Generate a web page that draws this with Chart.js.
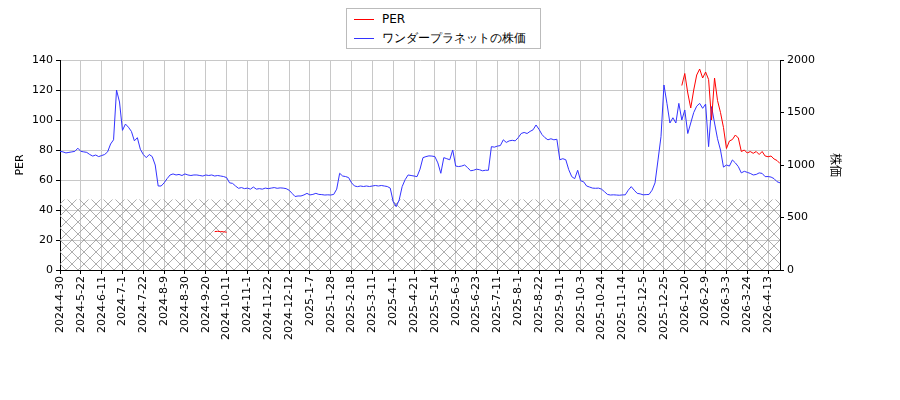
<!DOCTYPE html>
<html><head><meta charset="utf-8">
<script src="https://cdn.jsdelivr.net/npm/chart.js"></script>
<style>
body{margin:0;background:#fff;font-family:"DejaVu Sans",sans-serif}
#wrap{position:relative;width:900px;height:400px}
#legend{position:absolute;left:346px;top:8px;width:193px;height:39px;border:1px solid #bbb;background:#fff;font-size:12px;z-index:2}
.row{position:absolute;left:7px;height:18px;line-height:18px;white-space:nowrap}
.sw{display:inline-block;width:20px;height:1.5px;vertical-align:middle;margin-right:8px}
</style></head><body>
<div id="wrap"><canvas id="c" width="900" height="400"></canvas>
<div id="legend"><div class="row" style="top:1px"><span class="sw" style="background:#ff0000"></span>PER</div>
<div class="row" style="top:20px"><span class="sw" style="background:#3333ff"></span>ワンダープラネットの株価</div></div></div>
<script>
const tickLabels=["2024-4-30","2024-5-22","2024-6-11","2024-7-1","2024-7-22","2024-8-9","2024-8-30","2024-9-20","2024-10-11","2024-11-1","2024-11-22","2024-12-12","2025-1-7","2025-1-28","2025-2-18","2025-3-11","2025-4-1","2025-4-21","2025-5-14","2025-6-3","2025-6-23","2025-7-11","2025-8-1","2025-8-22","2025-9-11","2025-10-3","2025-10-24","2025-11-14","2025-12-5","2025-12-25","2026-1-20","2026-2-9","2026-3-3","2026-3-24","2026-4-13"];
const price=[
1130,1125,1115,1120,1125,1130,1160,1130,1125,1120,
1100,1085,1095,1080,1090,1100,1125,1200,1240,1714,
1600,1330,1390,1360,1320,1230,1260,1150,1100,1070,
1100,1080,1000,800,800,830,870,905,915,905,
910,900,915,905,900,905,905,900,895,905,
900,905,895,900,895,890,880,830,825,800,
778,785,775,780,770,790,770,775,770,780,
775,780,785,778,782,780,775,760,730,700,
705,705,715,730,715,720,730,720,718,714,
716,714,720,770,921,895,890,880,830,800,
794,800,795,800,795,800,805,800,805,800,
795,780,650,603,667,794,860,905,900,895,
889,960,1070,1080,1087,1085,1080,1020,921,1070,
1060,1050,1143,990,985,990,1000,975,945,950,
960,955,945,950,950,1175,1170,1180,1185,1240,
1215,1230,1235,1230,1260,1300,1310,1300,1320,1335,
1381,1340,1290,1260,1240,1250,1240,1245,1050,1060,
1050,955,889,870,950,850,840,800,790,780,
778,780,770,746,720,714,716,714,712,715,
716,760,794,760,730,725,716,718,720,760,
830,1048,1270,1762,1587,1400,1450,1400,1587,1428,
1524,1300,1400,1500,1560,1587,1540,1580,1175,1556,
1400,1250,1143,980,1000,990,1048,1020,984,925,
940,930,920,905,910,925,920,889,890,885,
870,841,830];
const per=new Array(243).fill(null);
const perEarlyStart=52, perEarly=[25.6,25.8,25.6,25.5,25.2];
const perLateStart=209, perLate=[123,131,118,108,120,130,134,128,132,127,100,128,113,105,95,81,86,87,90,88,79,80,78,79,77.8,79,77,79,76,75.5,76,74,73,71,70];
perEarly.forEach((v,i)=>per[perEarlyStart+i]=v);
perLate.forEach((v,i)=>per[perLateStart+i]=v);
const labels=price.map((_,i)=>i%7===0&&tickLabels[i/7]?tickLabels[i/7]:'');

function hatch(){const p=document.createElement('canvas');p.width=12;p.height=12;const g=p.getContext('2d');
g.strokeStyle='#999';g.lineWidth=0.8;g.beginPath();g.moveTo(0,0);g.lineTo(12,12);g.moveTo(12,0);g.lineTo(0,12);g.stroke();return p;}
const hatchPlugin={id:'hatch',beforeDatasetsDraw(ch){const c=ch.ctx,a=ch.chartArea,y=ch.scales.y;
c.save();c.fillStyle=c.createPattern(hatch(),'repeat');const t=y.getPixelForValue(47);c.fillRect(a.left,t,a.right-a.left,y.getPixelForValue(0)-t);c.restore();}};
const titlePlugin={id:'titles',afterDraw(ch){const c=ch.ctx,a=ch.chartArea,m=(a.top+a.bottom)/2;c.save();c.fillStyle='#000';c.textAlign='center';c.textBaseline='middle';
c.font='11px "DejaVu Sans"';c.translate(20,m);c.rotate(-Math.PI/2);c.fillText('PER',0,0);c.restore();
c.save();c.fillStyle='#000';c.textAlign='center';c.textBaseline='middle';c.font='12px "Noto Sans CJK JP"';c.translate(836,m);c.rotate(Math.PI/2);c.fillText('株価',0,0);c.restore();}};
const gc=ctx=>(ctx.index%7===0&&labels[ctx.index])?'#c8c8c8':'rgba(0,0,0,0)';
const tc=ctx=>(ctx.index%7===0&&labels[ctx.index])?'#000':'rgba(0,0,0,0)';
Chart.defaults.font.family='"DejaVu Sans"';Chart.defaults.font.size=11;Chart.defaults.color='#000';
new Chart(document.getElementById('c'),{type:'line',plugins:[hatchPlugin,titlePlugin],
data:{labels,datasets:[
{data:per,yAxisID:'y',borderColor:'#ff0000',borderWidth:1,pointRadius:0,spanGaps:false},
{data:price,yAxisID:'y2',borderColor:'#3333ff',borderWidth:1,pointRadius:0}]},
options:{responsive:false,animation:false,layout:{padding:{top:60}},plugins:{legend:{display:false},tooltip:{enabled:false}},
scales:{
x:{offset:false,afterFit(s){s.height=130},grid:{color:gc,tickColor:tc,tickLength:4},border:{color:'#000'},
ticks:{autoSkip:false,maxRotation:90,minRotation:90,padding:2,callback:(v,i)=>labels[i]}},
y:{position:'left',min:0,max:140,afterFit(s){s.width=60},ticks:{stepSize:20,padding:3},grid:{color:'#c8c8c8',tickColor:'#000',tickLength:4},border:{color:'#000'}},
y2:{position:'right',min:0,max:2000,afterFit(s){s.width=120},ticks:{stepSize:500,padding:3,callback:v=>String(v)},grid:{drawOnChartArea:false,tickColor:'#000',tickLength:4},border:{color:'#000'}}}}});
</script></body></html>
